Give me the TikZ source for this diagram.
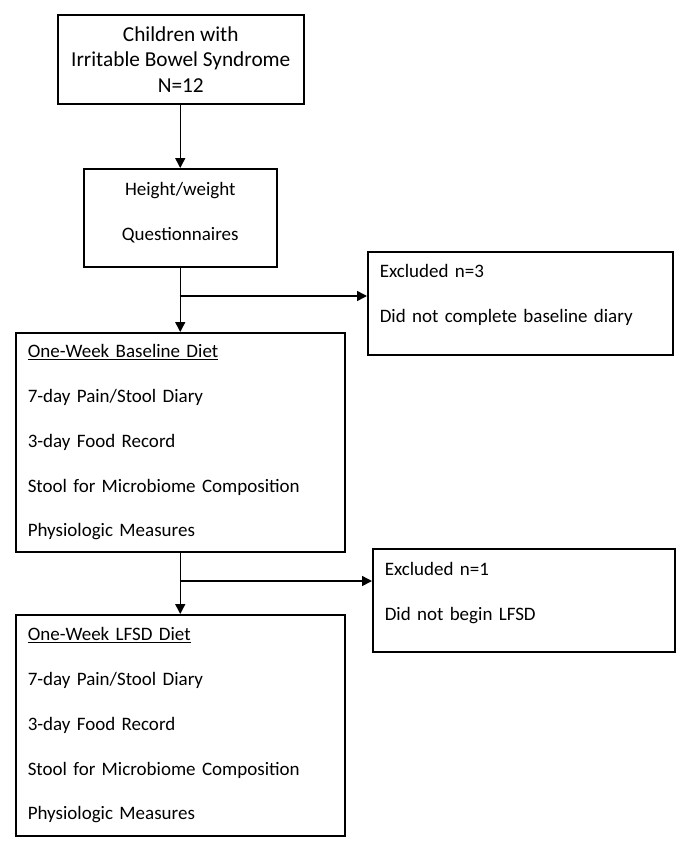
\documentclass[tikz,border=0pt]{standalone}
\usepackage{fontspec}
\setmainfont{Carlito}
\usetikzlibrary{arrows.meta,positioning,calc}

\begin{document}
\begin{tikzpicture}[
    x=1pt, y=-1pt,
    box/.style={draw=black, line width=1.5pt, anchor=north west, inner xsep=12pt, inner ysep=0pt},
    title/.style={box, align=center, font=\fontsize{21.3}{25.5}\selectfont},
    stepbox/.style={box, align=left, font=\fontsize{19}{44.8}\selectfont},
    centerbox/.style={box, align=center, font=\fontsize{19}{45}\selectfont},
    arr/.style={-{Triangle[length=10pt,width=10pt]}, line width=1.5pt}
]
\useasboundingbox (0,0) rectangle (687,849);

\node[title, minimum width=246pt, minimum height=89pt] (kids) at (57,14) {Children with\\Irritable Bowel Syndrome\\N=12};
\node[centerbox, minimum width=193pt, minimum height=98pt, text depth=12pt] (intake) at (83,168) {Height/weight\\Questionnaires};
\node[stepbox, text width=305pt, minimum height=219pt] (baseline) at (15,332) {\underline{One-Week Baseline Diet}\\7-day Pain/Stool Diary\\3-day Food Record\\Stool for Microbiome Composition\\Physiologic Measures};
\node[stepbox, text width=281pt, minimum height=103pt, text depth=65pt] (excl1) at (367,251) {Excluded n=3\\Did not complete baseline diary};
\node[stepbox, text width=305pt, minimum height=221pt] (lfsd) at (15,614) {\underline{One-Week LFSD Diet}\\7-day Pain/Stool Diary\\3-day Food Record\\Stool for Microbiome Composition\\Physiologic Measures};
\node[stepbox, text width=278pt, minimum height=103pt, text depth=63pt] (excl2) at (372,548) {Excluded n=1\\Did not begin LFSD};

\coordinate (split1) at (179.5,296);
\coordinate (split2) at (179.5,581);

\draw[arr] (intake.north |- kids.south) -- (intake.north);
\draw[arr] (intake.south) -- (baseline.north);
\draw[arr] (split1) -- (split1 -| excl1.west);
\draw[arr] (baseline.south) -- (lfsd.north);
\draw[arr] (split2) -- (split2 -| excl2.west);

\end{tikzpicture}
\end{document}
